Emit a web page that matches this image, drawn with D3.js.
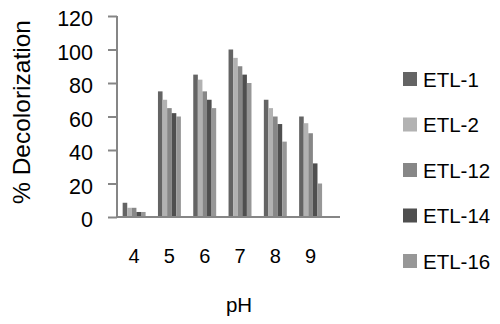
<!DOCTYPE html>
<html>
<head>
<meta charset="utf-8">
<script src="https://cdn.jsdelivr.net/npm/d3@7"></script>
<style>
  body { margin: 0; background: #fff; }
  text { font-family: "Liberation Sans", Arial, sans-serif; fill: #000; }
</style>
</head>
<body>
<svg width="500" height="324"></svg>
<script>
const phLevels = ['4', '5', '6', '7', '8', '9'];
const strains = ['ETL-1', 'ETL-2', 'ETL-12', 'ETL-14', 'ETL-16'];
const etl1 = [8.5, 75, 85, 100, 70, 60];
const etl2 = [5.5, 70, 82, 95, 65, 56];
const etl12 = [5.5, 65, 75, 90, 60, 50];
const etl14 = [3, 62, 70, 85, 55.5, 32];
const etl16 = [3, 60, 65, 80, 45, 20];
const yTicks = [0, 20, 40, 60, 80, 100, 120];

const series = [etl1, etl2, etl12, etl14, etl16];
const colors = ['#646464', '#b2b2b2', '#878787', '#4f4f4f', '#979797'];

const margin = {top: 16, left: 117, right: 160, bottom: 107};
const width = 500, height = 324;
const plotRight = width - margin.right;
const plotBottom = height - margin.bottom;

const svg = d3.select('svg');

const x = d3.scaleBand()
  .domain(phLevels)
  .range([margin.left, plotRight])
  .paddingInner(0.35)
  .paddingOuter(0.334)
  .align(0.24);

const xs = d3.scaleBand()
  .domain(strains)
  .range([0, x.bandwidth()]);

const y = d3.scaleLinear()
  .domain([0, 120])
  .range([plotBottom, margin.top]);

// bars
const g = svg.append('g');
phLevels.forEach((ph, i) => {
  g.selectAll(null)
    .data(strains)
    .enter().append('rect')
    .attr('x', s => x(ph) + xs(s))
    .attr('width', xs.bandwidth())
    .attr('y', (s, j) => y(series[j][i]))
    .attr('height', (s, j) => y(0) - y(series[j][i]))
    .attr('fill', (s, j) => colors[j]);
});

// y axis
const yAxis = svg.append('g')
  .attr('transform', `translate(${margin.left},0)`)
  .call(d3.axisLeft(y).tickValues(yTicks).tickSize(9).tickPadding(15));
yAxis.selectAll('line, path').attr('stroke', '#868686').attr('stroke-width', 2);
yAxis.select('.domain').attr('d', `M0,${margin.top}V${plotBottom}`);
yAxis.selectAll('text')
  .attr('font-size', 21.5)
  .attr('dy', '0.45em')
  .attr('font-family', '"Liberation Sans", Arial, sans-serif');

// x axis
const xAxis = svg.append('g')
  .attr('transform', `translate(0,${plotBottom})`)
  .call(d3.axisBottom(x).tickSize(0).tickPadding(32));
xAxis.select('.domain')
  .attr('d', `M${margin.left},0H${plotRight}`)
  .attr('stroke', '#868686').attr('stroke-width', 2);
xAxis.selectAll('text').attr('font-size', 20).attr('font-family', '"Liberation Sans", Arial, sans-serif');

// titles
svg.append('text')
  .attr('transform', `translate(30,112) rotate(-90)`)
  .attr('text-anchor', 'middle')
  .attr('font-size', 24.5)
  .text('% Decolorization');

svg.append('text')
  .attr('x', 239).attr('y', 312)
  .attr('text-anchor', 'middle')
  .attr('font-size', 20.5)
  .text('pH');

// legend
const legend = svg.append('g')
  .selectAll('g')
  .data(strains)
  .enter().append('g')
  .attr('transform', (d, i) => `translate(403,${79 + i * 45.5})`);
legend.append('rect')
  .attr('y', -7).attr('width', 14).attr('height', 14)
  .attr('fill', (d, i) => colors[i]);
legend.append('text')
  .attr('x', 20).attr('y', 7.5)
  .attr('font-size', 20.5)
  .text(d => d);
</script>
</body>
</html>
